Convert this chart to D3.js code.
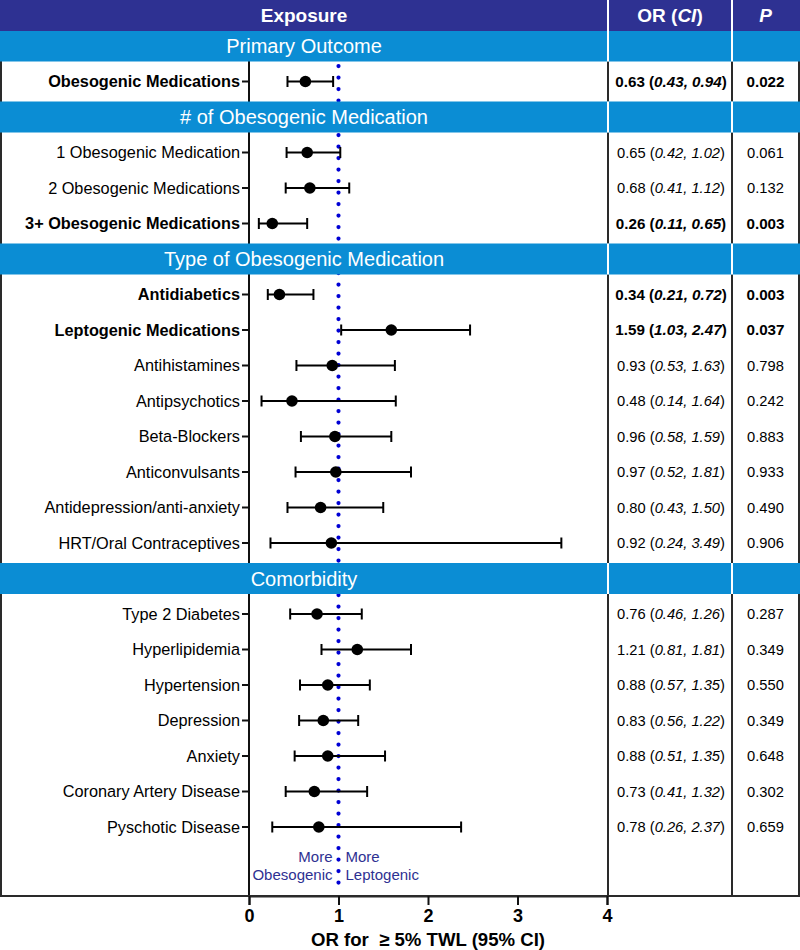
<!DOCTYPE html>
<html><head><meta charset="utf-8">
<script src="https://cdn.jsdelivr.net/npm/d3@7"></script>
<style>
body{margin:0;background:#fff}
svg text{font-family:"Liberation Sans",Arial,Helvetica,sans-serif}
</style>
</head><body>
<svg id="c" width="800" height="950"></svg>
<script>
// ---------- data ----------
const headers = ["Exposure", "OR", "CI", "P"];
const groups = ["Primary Outcome", "# of Obesogenic Medication", "Type of Obesogenic Medication", "Comorbidity"];
const labels = [
  "Obesogenic Medications",
  "1 Obesogenic Medication", "2 Obesogenic Medications", "3+ Obesogenic Medications",
  "Antidiabetics", "Leptogenic Medications", "Antihistamines", "Antipsychotics",
  "Beta-Blockers", "Anticonvulsants", "Antidepression/anti-anxiety", "HRT/Oral Contraceptives",
  "Type 2 Diabetes", "Hyperlipidemia", "Hypertension", "Depression", "Anxiety",
  "Coronary Artery Disease", "Pyschotic Disease"
];
const rowGroup = [0, 1,1,1, 2,2,2,2,2,2,2,2, 3,3,3,3,3,3,3];
const orValues = [0.63, 0.65,0.68,0.26, 0.34,1.59,0.93,0.48,0.96,0.97,0.80,0.92, 0.76,1.21,0.88,0.83,0.88,0.73,0.78];
const ciLow    = [0.43, 0.42,0.41,0.11, 0.21,1.03,0.53,0.14,0.58,0.52,0.43,0.24, 0.46,0.81,0.57,0.56,0.51,0.41,0.26];
const ciHigh   = [0.94, 1.02,1.12,0.65, 0.72,2.47,1.63,1.64,1.59,1.81,1.50,3.49, 1.26,1.81,1.35,1.22,1.52,1.32,2.37];
const ciText = [
  "0.43, 0.94",
  "0.42, 1.02", "0.41, 1.12", "0.11, 0.65",
  "0.21, 0.72", "1.03, 2.47", "0.53, 1.63", "0.14, 1.64", "0.58, 1.59", "0.52, 1.81", "0.43, 1.50", "0.24, 3.49",
  "0.46, 1.26", "0.81, 1.81", "0.57, 1.35", "0.56, 1.22", "0.51, 1.35", "0.41, 1.32", "0.26, 2.37"
];
const pValues = ["0.022", "0.061","0.132","0.003", "0.003","0.037","0.798","0.242","0.883","0.933","0.490","0.906",
  "0.287","0.349","0.550","0.349","0.648","0.302","0.659"];
const boldRows = [true, false,false,true, true,true,false,false,false,false,false,false, false,false,false,false,false,false,false];
const xTicks = [0, 1, 2, 3, 4];
const refValue = 1;
const legendLeft = ["More", "Obesogenic"];
const legendRight = ["More", "Leptogenic"];
const axisTitle = "OR for  \u2265 5% TWL (95% CI)";

// ---------- layout ----------
const W = 800;
const colOR = 608, colP = 732, rightEdge = 799;
const headerH = 31, bandH = 31;
const bottomY = 896;
const navy = "#2e3192", band = "#0b8dd4", dotBlue = "#0000d4";

// slots: band, rows...
const slots = [];
groups.forEach((g, gi) => {
  slots.push({type: "band", text: g});
  labels.forEach((l, i) => { if (rowGroup[i] === gi) slots.push({type: "row", i}); });
});

const x = d3.scaleLinear().domain([0, 4]).range([249, 607]);
const y = d3.scaleLinear().domain([0, slots.length - 1]).range([46, 827]);

const svg = d3.select("#c");
svg.append("rect").attr("width", W).attr("height", 950).attr("fill", "#fff");

// reference dotted line
svg.append("line")
  .attr("x1", x(refValue)).attr("x2", x(refValue))
  .attr("y1", 66).attr("y2", bottomY - 4)
  .attr("stroke", dotBlue).attr("stroke-width", 4.2)
  .attr("stroke-linecap", "round").attr("stroke-dasharray", "0.1 11.4");

// y-axis line
svg.append("line").attr("x1", x(0)).attr("x2", x(0)).attr("y1", headerH).attr("y2", bottomY)
  .attr("stroke", "#111").attr("stroke-width", 2);

// column lines and borders
[1, colOR, colP, rightEdge].forEach(cx => {
  svg.append("line").attr("x1", cx).attr("x2", cx).attr("y1", 0).attr("y2", bottomY)
    .attr("stroke", "#2a2a2a").attr("stroke-width", 2);
});
svg.append("line").attr("x1", 0).attr("x2", rightEdge + 1).attr("y1", bottomY).attr("y2", bottomY)
  .attr("stroke", "#2a2a2a").attr("stroke-width", 2);

// bands
const bandSlots = slots.map((s, k) => ({...s, k})).filter(s => s.type === "band");
const bg = svg.append("g");
bandSlots.forEach(s => {
  const cy = y(s.k);
  bg.append("rect").attr("x", 0).attr("y", cy - bandH / 2).attr("width", W).attr("height", bandH).attr("fill", band);
  [colOR, colP].forEach(cx => bg.append("line").attr("x1", cx).attr("x2", cx)
    .attr("y1", cy - bandH / 2).attr("y2", cy + bandH / 2).attr("stroke", "#fff").attr("stroke-width", 2));
  bg.append("text").attr("x", colOR / 2).attr("y", cy).attr("dy", "0.36em")
    .attr("text-anchor", "middle").attr("fill", "#fff").attr("font-size", 20).text(s.text);
});

// header
svg.append("rect").attr("x", 0).attr("y", 0).attr("width", W).attr("height", headerH).attr("fill", navy);
[colOR, colP].forEach(cx => svg.append("line").attr("x1", cx).attr("x2", cx).attr("y1", 0).attr("y2", headerH)
  .attr("stroke", "#fff").attr("stroke-width", 2));
const hy = headerH / 2;
svg.append("text").attr("x", colOR / 2).attr("y", hy).attr("dy", "0.36em").attr("text-anchor", "middle")
  .attr("fill", "#fff").attr("font-size", 19).attr("font-weight", "bold").text(headers[0]);
const orHead = svg.append("text").attr("x", (colOR + colP) / 2).attr("y", hy).attr("dy", "0.36em")
  .attr("text-anchor", "middle").attr("fill", "#fff").attr("font-size", 19).attr("font-weight", "bold");
orHead.append("tspan").text(headers[1] + " (");
orHead.append("tspan").attr("font-style", "italic").text(headers[2]);
orHead.append("tspan").text(")");
svg.append("text").attr("x", (colP + rightEdge) / 2).attr("y", hy).attr("dy", "0.36em").attr("text-anchor", "middle")
  .attr("fill", "#fff").attr("font-size", 19).attr("font-weight", "bold").attr("font-style", "italic").text(headers[3]);

// rows
const rowSlots = slots.map((s, k) => ({...s, k})).filter(s => s.type === "row");
const rg = svg.append("g");
rowSlots.forEach(s => {
  const i = s.i, cy = y(s.k), b = boldRows[i], fw = b ? "bold" : "normal";
  // y tick
  rg.append("line").attr("x1", x(0) - 7).attr("x2", x(0)).attr("y1", cy).attr("y2", cy)
    .attr("stroke", "#111").attr("stroke-width", 2);
  // label
  rg.append("text").attr("x", x(0) - 9).attr("y", cy).attr("dy", "0.36em").attr("text-anchor", "end")
    .attr("font-size", 16.3).attr("font-weight", fw).attr("fill", "#000").text(labels[i]);
  // CI bar
  rg.append("line").attr("x1", x(ciLow[i])).attr("x2", x(ciHigh[i])).attr("y1", cy).attr("y2", cy)
    .attr("stroke", "#000").attr("stroke-width", 2);
  [ciLow[i], ciHigh[i]].forEach(v => rg.append("line").attr("x1", x(v)).attr("x2", x(v))
    .attr("y1", cy - 5.5).attr("y2", cy + 5.5).attr("stroke", "#000").attr("stroke-width", 2));
  rg.append("circle").attr("cx", x(orValues[i])).attr("cy", cy).attr("r", 5.8).attr("fill", "#000");
  // OR text
  const fs = b ? 15.2 : 14.7;
  const t = rg.append("text").attr("x", (colOR + colP) / 2 + 1).attr("y", cy).attr("dy", "0.36em")
    .attr("text-anchor", "middle").attr("font-size", fs).attr("font-weight", fw).attr("fill", "#000");
  t.append("tspan").text(orValues[i].toFixed(2) + " (");
  t.append("tspan").attr("font-style", "italic").text(ciText[i]);
  t.append("tspan").text(")");
  rg.append("text").attr("x", (colP + rightEdge) / 2).attr("y", cy).attr("dy", "0.36em")
    .attr("text-anchor", "middle").attr("font-size", fs).attr("font-weight", fw).attr("fill", "#000").text(pValues[i]);
});

// legend text
const ly = y(slots.length - 1) + 30;
legendLeft.forEach((t, j) => svg.append("text").attr("x", x(refValue) - 6).attr("y", ly + j * 18)
  .attr("dy", "0.36em").attr("text-anchor", "end").attr("font-size", 15).attr("fill", navy).text(t));
legendRight.forEach((t, j) => svg.append("text").attr("x", x(refValue) + 7).attr("y", ly + j * 18)
  .attr("dy", "0.36em").attr("text-anchor", "start").attr("font-size", 15).attr("fill", navy).text(t));

// x axis
const ax = svg.append("g").attr("transform", `translate(0,${bottomY})`)
  .call(d3.axisBottom(x).tickValues(xTicks).tickFormat(d3.format("d")).tickSize(9).tickPadding(4));
ax.select(".domain").attr("stroke", "#2a2a2a").attr("stroke-width", 2);
ax.selectAll(".tick line").attr("stroke", "#111").attr("stroke-width", 2);
ax.selectAll(".tick text").attr("font-size", 18).attr("font-weight", "bold").attr("fill", "#000")
  .attr("font-family", "'Liberation Sans',Arial,sans-serif");
svg.append("text").attr("x", x(2)).attr("y", 939).attr("dy", "0.36em").attr("text-anchor", "middle")
  .attr("font-size", 18.6).attr("font-weight", "bold").attr("fill", "#000")
  .style("white-space", "pre").text(axisTitle);
</script>
</body></html>
